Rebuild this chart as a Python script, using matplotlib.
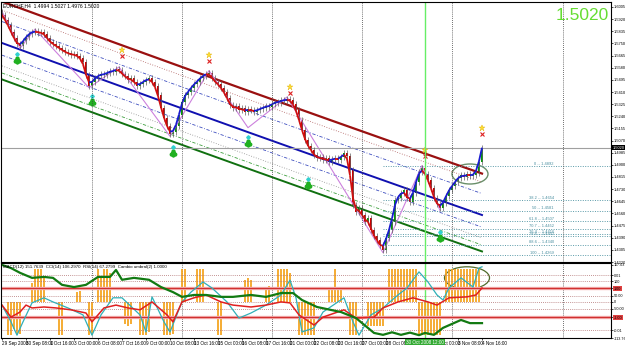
import numpy as np
import matplotlib
matplotlib.use("Agg")
import matplotlib.pyplot as plt
from matplotlib.collections import LineCollection
from matplotlib.patches import Ellipse

plt.rcParams['font.family'] = ['Liberation Sans', 'DejaVu Sans']

# ---- data ----
symbol_text = "EURCHF,H4  1.4994 1.5027 1.4976 1.5020"
indicator_text = "MACD(12) 151.7639  CCI(14) 106.2970  RSI(14) 67.2799  Cambio umbral(2) 1.0000"
last_price = 1.5020
first_open = 1.5975

closes = [
    1.5949, 1.5914, 1.5879, 1.5830, 1.5788, 1.5746, 1.5732, 1.5767, 1.5795, 1.5816,
    1.5830, 1.5837, 1.5823, 1.5830, 1.5816, 1.5788, 1.5760, 1.5746, 1.5732, 1.5718,
    1.5704, 1.5690, 1.5683, 1.5669, 1.5676, 1.5662, 1.5648, 1.5620, 1.5529, 1.5452,
    1.5480, 1.5508, 1.5522, 1.5536, 1.5529, 1.5543, 1.5557, 1.5550, 1.5571, 1.5564,
    1.5536, 1.5522, 1.5494, 1.5508, 1.5480, 1.5452, 1.5466, 1.5480, 1.5494, 1.5508,
    1.5480, 1.5452, 1.5389, 1.5298, 1.5228, 1.5172, 1.5116, 1.5130, 1.5172, 1.5249,
    1.5340, 1.5389, 1.5410, 1.5438, 1.5466, 1.5480, 1.5508, 1.5522, 1.5536, 1.5543,
    1.5508, 1.5480, 1.5466, 1.5438, 1.5410, 1.5368, 1.5319, 1.5298, 1.5312, 1.5284,
    1.5298, 1.5270, 1.5291, 1.5284, 1.5270, 1.5284, 1.5291, 1.5298, 1.5312, 1.5305,
    1.5326, 1.5340, 1.5333, 1.5354, 1.5347, 1.5361, 1.5354, 1.5326, 1.5284, 1.5214,
    1.5144, 1.5074, 1.5032, 1.5004, 1.4969, 1.4948, 1.4955, 1.4934, 1.4948, 1.4920,
    1.4941, 1.4948, 1.4934, 1.4955, 1.4983, 1.4962, 1.4864, 1.4619, 1.4570, 1.4598,
    1.4549, 1.4500, 1.4528, 1.4444, 1.4402, 1.4374, 1.4339, 1.4304, 1.4388, 1.4444,
    1.4500, 1.4654, 1.4668, 1.4703, 1.4724, 1.4668, 1.4640, 1.4703, 1.4780, 1.4850,
    1.4878, 1.4836, 1.4794, 1.4738, 1.4668, 1.4626, 1.4598, 1.4633, 1.4682, 1.4724,
    1.4752, 1.4780, 1.4808, 1.4829, 1.4815, 1.4836, 1.4822, 1.4829, 1.4843, 1.4920,
    1.5020,
]

date_bars = [0, 8, 16, 24, 32, 40, 48, 56, 64, 72, 80, 88, 96, 104, 112, 120, 128, 136, 144, 152, 160]
date_labels = ["29 Sep 2008", "30 Sep 08:00", "1 Oct 16:00", "3 Oct 00:00", "6 Oct 08:00",
               "7 Oct 16:00", "9 Oct 00:00", "10 Oct 08:00", "13 Oct 16:00", "15 Oct 00:00",
               "16 Oct 08:00", "17 Oct 16:00", "21 Oct 00:00", "22 Oct 08:00", "23 Oct 16:00",
               "27 Oct 00:00", "28 Oct 08:00", "29 Oct 16:00", "31 Oct 00:00", "3 Nov 08:00",
               "4 Nov 16:00"]
week_bars = [30, 60, 90, 120, 150, 187]
marker_bar = 141
marker_label = "30 Oct 2008 12:00"

# regression channel (mid line at three bars) and its widths
chan_bars = [0, 80, 160]
chan_mid = [1.5753, 1.5144, 1.4549]
chan_up = 0.0290
chan_dn = 0.0255
chan_inner = [0.0230, 0.0150, -0.0085, -0.0160, -0.0210]

zz_bars = [0, 6, 11, 29, 39, 56, 69, 82, 95, 127, 140, 146]
zz_prices = [1.5975, 1.5715, 1.5850, 1.5440, 1.5585, 1.5100, 1.5560, 1.5160, 1.5375, 1.4285, 1.4895, 1.4580]

star_bars = [40, 69, 96, 141, 160]
star_prices = [1.5704, 1.5669, 1.5445, 1.5004, 1.5158]
buy_bars = [5, 30, 57, 82, 102, 146]
buy_prices = [1.5634, 1.5340, 1.4983, 1.5053, 1.4759, 1.4388]

fib_high = 1.4892
fib_low = 1.4269
fib_levels = [0, 38.2, 50.0, 61.8, 70.7, 76.4, 78.6, 88.6, 100.0]

cyan_bars = [0, 3, 5, 7, 10, 14, 17, 22, 27, 30, 33, 37, 40, 46, 48, 50, 54, 56, 60, 63, 67, 70,
             75, 79, 83, 88, 93, 96, 98, 100, 104, 107, 114, 117, 119, 123, 127, 132, 135, 139,
             142, 145, 147, 149, 153, 157, 159, 160]
cyan_vals = [-10, -63, -105, -63, -3, 13, 0, -19, -41, -105, -41, 13, 13, -41, -95, 16, -63, -95,
             0, 31, 63, 44, 0, -51, -35, -10, 22, 69, 13, -95, -82, -32, 13, -63, -105, -41, -19,
             22, 44, 95, 63, 22, 6, 44, 76, 47, 107, 111]
red_bars = [0, 3, 6, 8, 10, 14, 18, 23, 28, 30, 34, 38, 42, 46, 50, 55, 57, 60, 64, 68, 73, 77,
            83, 88, 93, 96, 99, 104, 107, 114, 118, 124, 127, 132, 137, 142, 145, 149, 155, 158, 160]
red_vals = [-10, -48, -32, -10, -19, -16, -19, -25, -35, -63, -19, -10, -19, -25, 0, -41, -63, 0,
            13, 22, 0, -10, -16, -10, 0, -3, -41, -73, -48, -25, -51, -48, -19, 0, 13, 0, -10, 13,
            16, 22, 44]
green_bars = [0, 3, 6, 10, 14, 17, 20, 24, 28, 32, 36, 38, 40, 44, 49, 53, 57, 60, 64, 68, 73, 77,
              83, 88, 93, 97, 100, 105, 113, 118, 124, 127, 130, 133, 136, 139, 141, 144, 147, 153,
              156, 160]
green_vals = [117, 107, 92, 76, 79, 76, 54, 47, 54, 79, 79, 101, 70, 76, 70, 47, 31, 16, 22, 22, 16,
              16, 22, 16, 28, 28, 6, -16, -32, -51, -98, -104, -96, -104, -97, -105, -98, -104, -82,
              -57, -67, -67]
hist_bars = [2, 3, 4, 5, 6,
             10, 11, 12, 13, 14,
             19, 20, 25, 26, 29, 30,
             32, 33, 34, 35, 36,
             41, 42, 43, 46, 47, 48, 49,
             54, 55, 56, 57, 60, 61, 65, 66, 67,
             72, 73, 81, 82, 83, 88, 89,
             92, 93, 94, 95, 96,
             99, 100, 101, 102, 103, 104,
             109, 110, 111, 112, 113, 116, 117, 118,
             122, 123, 124, 125, 126, 127,
             129, 130, 131, 132, 133, 134, 135, 136, 137, 138,
             139, 140, 141, 142, 143, 144, 145, 146,
             148, 149, 150, 151, 152, 153, 154, 155, 156, 157, 158, 159]
hist_vals = [-105, -105, -85, -105, -100,
             60, 105, 105, 105, 80,
             -105, -105, 30, 35, -105, -105,
             105, 80, 105, 105, 90,
             -70, -75, -70, -105, -105, -105, -95,
             -105, -105, -105, -100, 105, 105, 105, 105, 105,
             -105, -105, 70, 75, 70, 45, 50,
             105, 105, 105, 105, 90,
             -105, -105, -105, -105, -105, -105,
             40, 45, 105, 40, 45, -105, -105, -105,
             -75, -75, -75, -75, -75, -75,
             105, 105, 105, 105, 105, 105, 105, 105, 105, 105,
             -105, -105, -105, -105, -105, -105, -105, -105,
             105, 105, 105, 105, 105, 105, 105, 105, 105, 105, 105, 105]

ind_levels = [85, 66, 19, 0, -22, -89]
ind_red_levels = [44, -48]
ind_ticks = [117, 85, 66, 44, 19, 0, -22, -48, -89, -114]
ind_ticklabels = ["117.03", "0.01", "100", "1.00", "50.00", "0", "-50.00", "-1.00", "-0.01", "-113.76"]

# ---- figure ----
fig = plt.figure(figsize=(6.25, 3.47), dpi=100)
ax = fig.add_axes([1 / 625, 85 / 347, 610 / 625, 260 / 347])
ax2 = fig.add_axes([1 / 625, 9 / 347, 610 / 625, 75 / 347], sharex=ax)

n = len(closes)
x = np.arange(n)
c = np.array(closes)
o = np.r_[first_open, c[:-1]]
wick = 0.0018
hi = np.maximum(o, c) + wick
lo = np.minimum(o, c) - wick
up = c >= o

# channel
coef = np.polyfit(chan_bars, chan_mid, 2)
cx = np.arange(0, chan_bars[-1] + 1)
mid = np.polyval(coef, cx)
for off in chan_inner:
    if off > 0.02:
        st = dict(color='#b06060', ls=(0, (1, 2)))
    elif off > -0.012:
        st = dict(color='#4050c0', ls=(0, (4, 2, 1, 2)))
    elif off > -0.018:
        st = dict(color='#909090', ls=(0, (1, 2)))
    else:
        st = dict(color='#40a040', ls=(0, (4, 2, 1, 2)))
    ax.plot(cx, mid + off, lw=0.6, **st)
ax.plot(cx, mid + chan_up, color='#9a1010', lw=1.6)
ax.plot(cx, mid, color='#1010b0', lw=1.4)
ax.plot(cx, mid - chan_dn, color='#107010', lw=1.4)

# fibonacci levels
xmax = 203
for lvl in fib_levels:
    p = fib_high - (fib_high - fib_low) * lvl / 100
    ax.hlines(p, 127, xmax, colors='#5a9aa8', linestyles=(0, (1, 1.5)), lw=0.7)
    ax.text(184, p + 0.0003, f"{lvl:g} -- {p:.4f}", ha='right', va='bottom',
            fontsize=2.9, color='#4a8fa0')

# zigzag
ax.plot(zz_bars, zz_prices, color='#cc80dd', lw=0.8)

ax.axhline(last_price, color='#a0a0a0', lw=0.8)

# candles
ax.vlines(x, lo, hi, color='#606060', lw=0.5)
body = np.maximum(np.abs(c - o), 0.0004)
ax.bar(x[up], body[up], bottom=np.minimum(o, c)[up], width=0.65, color='#00a000', lw=0)
ax.bar(x[~up], body[~up], bottom=np.minimum(o, c)[~up], width=0.65, color='#d00000', lw=0)

# smoothed trend line coloured by direction
sm = np.convolve(c, [0.25, 0.5, 0.25], mode='same')
sm[0], sm[-1] = c[0], c[-1]
pts = np.column_stack([x, sm]).reshape(-1, 1, 2)
segs = np.concatenate([pts[:-1], pts[1:]], axis=1)
cols = ['#1a1ad0' if d > 0 else '#d01010' for d in np.diff(sm)]
ax.add_collection(LineCollection(segs, colors=cols, lw=1.3))

# signals
ax.plot(star_bars, star_prices, ls='none', marker='*', ms=5, color='#ffe030', mec='#e0b000', mew=0.3)
ax.plot(star_bars, np.array(star_prices) - 0.0045, ls='none', marker='x', ms=2.2, color='#dd2020', mew=0.8)
ax.plot(buy_bars, buy_prices, ls='none', marker=r'$\clubsuit$', ms=5, color='#20b020')
ax.plot(buy_bars, np.array(buy_prices) + 0.0042, ls='none', marker='D', ms=1.8, color='#30d0d0')

ax.add_patch(Ellipse((156, 1.4836), 12, 0.0140, fill=False, ec='#6a8f6a', lw=1.0))

# grids and the marked bar
for ab in (ax, ax2):
    for wb in week_bars:
        ab.axvline(wb, color='#404040', ls=(0, (1, 1.5)), lw=0.6)
    ab.axvline(marker_bar, color='#66ee66', lw=1.0)

ax.set_xlim(-0.33, xmax)
ax.set_ylim(1.4220, 1.6040)
ax.yaxis.tick_right()
yt = 1.4220 + 0.0085 * np.arange(22)
ax.set_yticks(yt)
ax.set_yticklabels([f"{v:.4f}" for v in yt])
ax.tick_params(axis='y', labelsize=2.9, length=1.5, width=0.5, pad=0.5)
ax.tick_params(axis='x', bottom=False, labelbottom=False)
ax.annotate(f"{last_price:.4f}", xy=(1.0, last_price), xycoords=('axes fraction', 'data'),
            xytext=(1.5, 0), textcoords='offset points', fontsize=2.9, color='white',
            va='center', ha='left', bbox=dict(boxstyle='square,pad=0.15', fc='black', ec='none'))

ax.text(0.004, 0.995, symbol_text, transform=ax.transAxes, fontsize=3.6, va='top', ha='left')
ax.text(0.997, 0.975, f"{last_price:.4f}", transform=ax.transAxes, fontsize=12.5,
        color='#66dd33', va='top', ha='right')

# ---- indicator panel ----
ax2.vlines(hist_bars, 0, hist_vals, color='#f5a623', lw=1.3)
for lv in ind_levels:
    ax2.axhline(lv, color='#b07070', ls=(0, (1, 1.5)), lw=0.6)
for lv in ind_red_levels:
    ax2.axhline(lv, color='#f4b0b0', lw=2.4)
    ax2.axhline(lv, color='#d03030', lw=0.9)
ax2.plot(cyan_bars, cyan_vals, color='#30b0b8', lw=0.9)
ax2.plot(red_bars, red_vals, color='#e02020', lw=1.1)
ax2.plot(green_bars, green_vals, color='#127a12', lw=1.6)
ax2.add_patch(Ellipse((155, 76), 15, 70, fill=False, ec='#4f6a2a', lw=0.9))
ax2.text(0.004, 0.97, indicator_text, transform=ax2.transAxes, fontsize=3.2, va='top', ha='left')

ax2.set_ylim(-114, 123)
ax2.yaxis.tick_right()
ax2.set_yticks(ind_ticks)
ax2.set_yticklabels(ind_ticklabels)
ax2.tick_params(axis='y', labelsize=2.7, length=1.5, width=0.5, pad=0.5)
for lbl, lv in zip(ax2.get_yticklabels(), ind_ticks):
    if lv in ind_red_levels:
        lbl.set_bbox(dict(boxstyle='square,pad=0.1', fc='#e04040', ec='none'))
ax2.set_xticks(date_bars)
ax2.set_xticklabels(date_labels, ha='left')
ax2.tick_params(axis='x', labelsize=3.3, length=1.5, width=0.5, pad=1)
ax2.text(marker_bar, -0.02, marker_label, transform=ax2.get_xaxis_transform(), ha='center',
         va='top', fontsize=3.3, color='white',
         bbox=dict(boxstyle='square,pad=0.15', fc='#33aa33', ec='none'))

for ab in (ax, ax2):
    for sp in ab.spines.values():
        sp.set_linewidth(0.8)

fig.savefig("out.png", dpi=100)
